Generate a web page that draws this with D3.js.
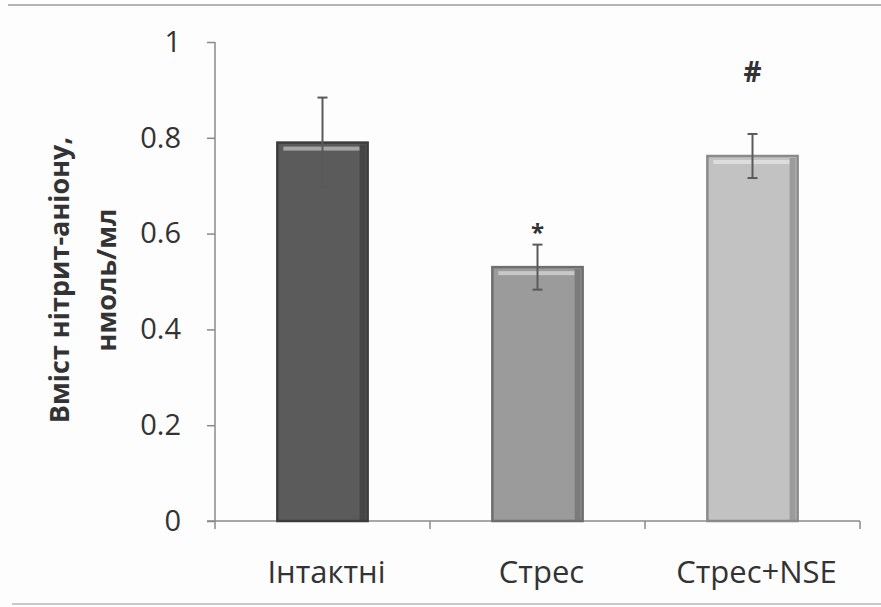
<!DOCTYPE html>
<html>
<head>
<meta charset="utf-8">
<script src="https://cdn.jsdelivr.net/npm/d3@7"></script>
<style>
    body { margin: 0; background: #fdfdfd; }
    svg { display: block; }
    text { font-family: "Open Sans", "Noto Sans", sans-serif; fill: #333; }
</style>
</head>
<body>
<svg id="chart" width="881" height="607"></svg>
<script>
// data
var groups = ["Інтактні", "Стрес", "Стрес+NSE"];
var means = [0.79, 0.53, 0.762];
var errors = [0.094, 0.047, 0.046];
var marks = ["", "*", "#"];
var yTicks = [0, 0.2, 0.4, 0.6, 0.8, 1];
var yTitle = ["Вміст нітрит-аніону,", "нмоль/мл"];
var fills = ["#5b5b5b", "#9b9b9b", "#c2c2c2"];
var edges = ["#3c3c3c", "#6e6e6e", "#8a8a8a"];

(function () {
    var svg = d3.select("#chart");
    var left = 215, right = 860, top = 42, bottom = 521;

    var y = d3.scaleLinear().domain([0, 1]).range([bottom, top]);
    var x = d3.scaleBand().domain(groups).range([left, right]).padding(0);
    var barW = x.bandwidth() * 0.42;

    var rows = groups.map((g, i) => ({ g: g, v: means[i], e: errors[i], m: marks[i], i: i }));

    // scan border lines
    svg.append("line").attr("x1", 8).attr("x2", 881).attr("y1", 5).attr("y2", 5)
        .attr("stroke", "#b5b5b5").attr("stroke-width", 2);
    svg.append("line").attr("x1", 12).attr("x2", 881).attr("y1", 604).attr("y2", 604)
        .attr("stroke", "#c8c8c8").attr("stroke-width", 2);

    // y axis
    var yAxis = svg.append("g")
        .attr("transform", "translate(" + left + ",0)")
        .call(d3.axisLeft(y).tickValues(yTicks).tickSize(8).tickPadding(26)
            .tickFormat(d => d === 1 ? "1" : d === 0 ? "0" : d3.format(".1f")(d)));
    yAxis.select(".domain").attr("stroke", "#8a8a8a").attr("stroke-width", 1.5)
        .attr("d", "M0," + top + "V" + (bottom + 8));
    yAxis.selectAll(".tick line").attr("stroke", "#8a8a8a").attr("stroke-width", 1.5);
    yAxis.selectAll(".tick text").attr("font-size", 29).attr("fill", "#333");

    // x axis (ticks between categories)
    var xAxis = svg.append("g").attr("transform", "translate(0," + bottom + ")");
    xAxis.append("line").attr("x1", left - 8).attr("x2", right).attr("y1", 0).attr("y2", 0)
        .attr("stroke", "#8a8a8a").attr("stroke-width", 1.5);
    xAxis.selectAll(".sep")
        .data(groups.slice(1).map(g => x(g)).concat([right]))
        .join("line")
        .attr("x1", d => d).attr("x2", d => d)
        .attr("y1", 0).attr("y2", 8)
        .attr("stroke", "#8a8a8a").attr("stroke-width", 1.5);
    xAxis.selectAll(".lab")
        .data(groups)
        .join("text")
        .attr("x", d => x(d) + x.bandwidth() / 2 + 4)
        .attr("y", 62)
        .attr("text-anchor", "middle")
        .attr("font-size", 31)
        .text(d => d);

    // bars
    var bars = svg.append("g").selectAll("g").data(rows).join("g")
        .attr("transform", d => "translate(" + (x(d.g) + x.bandwidth() / 2 - barW / 2) + ",0)");
    bars.append("rect")
        .attr("x", 0).attr("width", barW)
        .attr("y", d => y(d.v)).attr("height", d => y(0) - y(d.v))
        .attr("fill", d => fills[d.i])
        .attr("stroke", d => edges[d.i]).attr("stroke-width", 2.5);
    // bevel highlight on top, shade on right
    bars.append("rect")
        .attr("x", 6).attr("width", barW - 14)
        .attr("y", d => y(d.v) + 4).attr("height", 4)
        .attr("fill", "#fff").attr("opacity", 0.45);
    bars.append("rect")
        .attr("x", barW - 8).attr("width", 6)
        .attr("y", d => y(d.v) + 2).attr("height", d => y(0) - y(d.v) - 2)
        .attr("fill", d => edges[d.i]).attr("opacity", 0.7);

    // error bars
    var err = svg.append("g").selectAll("g").data(rows).join("g")
        .attr("transform", d => "translate(" + (x(d.g) + x.bandwidth() / 2) + ",0)");
    err.append("line")
        .attr("x1", 0).attr("x2", 0)
        .attr("y1", d => y(d.v - d.e)).attr("y2", d => y(d.v + d.e))
        .attr("stroke", "#5a5a5a").attr("stroke-width", 2);
    err.append("line")
        .attr("x1", -5).attr("x2", 5)
        .attr("y1", d => y(d.v + d.e)).attr("y2", d => y(d.v + d.e))
        .attr("stroke", "#5a5a5a").attr("stroke-width", 2);
    err.append("line")
        .attr("x1", -5).attr("x2", 5)
        .attr("y1", d => y(d.v - d.e)).attr("y2", d => y(d.v - d.e))
        .attr("stroke", "#5a5a5a").attr("stroke-width", 2);

    // significance marks
    svg.append("g").selectAll("text").data(rows.filter(d => d.m)).join("text")
        .attr("x", d => x(d.g) + x.bandwidth() / 2)
        .attr("y", d => d.m === "*" ? y(d.v + d.e) - 4 : 82)
        .attr("text-anchor", "middle")
        .attr("font-weight", "bold")
        .attr("font-size", d => d.m === "*" ? 24 : 28)
        .text(d => d.m);

    // y title
    svg.append("text")
        .attr("transform", "translate(60,280) rotate(-90)")
        .attr("text-anchor", "middle")
        .attr("font-weight", "bold")
        .attr("font-size", 27)
        .selectAll("tspan").data(yTitle).join("tspan")
        .attr("x", 0)
        .attr("dy", (d, i) => i === 0 ? "0.35em" : 47)
        .text(d => d);
})();
</script>
</body>
</html>
